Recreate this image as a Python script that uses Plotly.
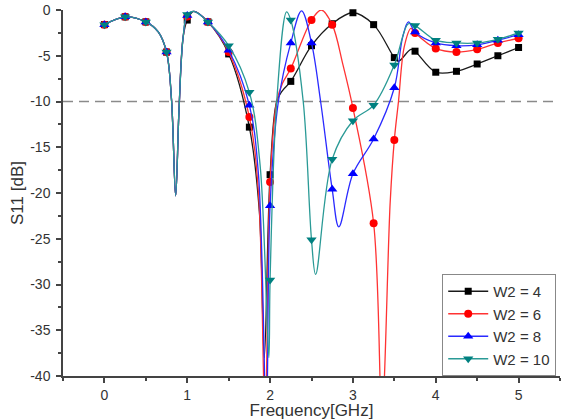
import plotly.graph_objects as go

# ---- data ----
marker_freq = [0.0, 0.25, 0.5, 0.75, 1.0, 1.25, 1.5, 1.75, 2.0, 2.25, 2.5,
               2.75, 3.0, 3.25, 3.5, 3.75, 4.0, 4.25, 4.5, 4.75, 5.0]

w4_markers = [-1.6, -0.75, -1.3, -4.6, -1.1, -1.3, -4.8, -12.8, -18.0, -7.8, -3.9,
              -1.5, -0.3, -1.6, -5.2, -4.5, -6.8, -6.7, -5.9, -5.0, -4.1]
w6_markers = [-1.6, -0.75, -1.3, -4.6, -0.7, -1.3, -4.6, -11.7, -18.8, -6.4, -1.1,
              -1.6, -10.7, -23.3, -14.2, -2.5, -4.2, -4.6, -4.3, -3.6, -3.1]
w8_markers = [-1.6, -0.75, -1.3, -4.6, -0.6, -1.3, -4.4, -10.4, -21.4, -3.6, -3.6,
              -19.6, -17.9, -14.1, -8.5, -2.4, -3.6, -3.9, -3.8, -3.3, -2.7]
w10_markers = [-1.6, -0.75, -1.3, -4.6, -0.5, -1.3, -3.9, -9.0, -29.5, -1.1, -25.1,
               -16.3, -12.1, -10.4, -6.0, -1.7, -3.3, -3.6, -3.6, -3.2, -2.5]

# extra curve points between the markers (resonance dips and peaks)
common_extra_freq = [0.65, 0.81, 0.86, 0.9, 0.95, 1.08]
common_extra_val = [-2.4, -9.8, -20.3, -11.0, -3.0, -0.15]

w4_extra_freq = [1.87, 1.93, 2.08, 2.15, 3.55, 3.7]
w4_extra_val = [-22.0, -38.0, -10.0, -8.8, -5.6, -4.3]
w6_extra_freq = [1.86, 1.94, 2.08, 2.15, 2.62, 2.88, 3.35, 3.45, 3.55, 3.62, 3.7]
w6_extra_val = [-20.0, -45.0, -10.0, -8.0, 0.0, -6.0, -44.0, -21.0, -10.0, -4.0, -2.0]
w8_extra_freq = [1.86, 1.955, 2.1, 2.38, 2.61, 2.83, 3.6, 3.67]
w8_extra_val = [-18.0, -45.0, -10.0, -0.1, -10.0, -23.7, -3.0, -1.3]
w10_extra_freq = [1.88, 1.985, 2.08, 2.2, 2.4, 2.55, 3.67]
w10_extra_val = [-17.0, -38.0, -10.0, -0.2, -10.0, -28.9, -1.5]

y_tick_vals = [0, -5, -10, -15, -20, -25, -30, -35, -40]
y_tick_labels = ["0", "-5", "-10", "-15", "-20", "-25", "-30", "-35", "-40"]
x_tick_vals = [0, 1, 2, 3, 4, 5]
x_tick_labels = ["0", "1", "2", "3", "4", "5"]

names = ["W2 = 4", "W2 = 6", "W2 = 8", "W2 = 10"]
colors = ["#000000", "#ff0000", "#0000ff", "#008080"]
line_colors = ["#1a1a1a", "#ff3333", "#2a2aff", "#2a9a96"]
symbols = ["square", "circle", "triangle-up", "triangle-down"]
sizes = [7, 8, 9, 9]

series = [
    (w4_markers, w4_extra_freq, w4_extra_val),
    (w6_markers, w6_extra_freq, w6_extra_val),
    (w8_markers, w8_extra_freq, w8_extra_val),
    (w10_markers, w10_extra_freq, w10_extra_val),
]

fig = go.Figure()

for i, (mk, ef, ev) in enumerate(series):
    pts = sorted(zip(marker_freq + common_extra_freq + ef,
                     mk + common_extra_val + ev))
    fig.add_trace(go.Scatter(
        x=[p[0] for p in pts], y=[p[1] for p in pts], mode="lines",
        line=dict(color=line_colors[i], width=1.3, shape="spline", smoothing=1.0),
        showlegend=False, hoverinfo="skip"))
    fig.add_trace(go.Scatter(
        x=marker_freq, y=mk, mode="markers",
        marker=dict(symbol=symbols[i], size=sizes[i], color=colors[i]),
        cliponaxis=False, showlegend=False))
    fig.add_trace(go.Scatter(
        x=[None], y=[None], mode="lines+markers", name=names[i],
        line=dict(color=line_colors[i], width=1.3),
        marker=dict(symbol=symbols[i], size=sizes[i], color=colors[i])))

fig.add_shape(type="line", x0=-0.5, x1=5.45, y0=-10, y1=-10, xref="x", yref="y",
              line=dict(color="#8a8a8a", width=1.3, dash="10px,6px"), layer="below")

axis_common = dict(showline=True, linecolor="#444", linewidth=1.5, ticks="outside",
                   ticklen=5, tickwidth=1.5, tickcolor="#444", showgrid=False,
                   zeroline=False, tickfont=dict(family="Liberation Sans", size=14, color="#333"),
                   mirror=False, tickmode="array", automargin=False)

fig.update_layout(
    width=571, height=420,
    margin=dict(l=63, r=11, t=10, b=44),
    plot_bgcolor="white", paper_bgcolor="white",
    font=dict(family="Liberation Sans", color="#333"),
    xaxis=dict(range=[-0.5, 5.5], tickvals=x_tick_vals, ticktext=x_tick_labels,
               minor=dict(dtick=0.5, tick0=0, ticks="outside", ticklen=3, tickcolor="#444"),
               title=dict(text="Frequency[GHz]", font=dict(size=17, color="#333"), standoff=4),
               **axis_common),
    yaxis=dict(range=[-40, 0], tickvals=y_tick_vals, ticktext=y_tick_labels,
               minor=dict(dtick=2.5, tick0=0, ticks="outside", ticklen=3, tickcolor="#444"),
               title=dict(text="S11 [dB]", font=dict(size=17, color="#333"), standoff=2),
               ticklabelstandoff=3,
               **axis_common),
    legend=dict(x=0.763, y=0, xanchor="left", yanchor="bottom",
                bgcolor="white", bordercolor="#888", borderwidth=1,
                font=dict(family="Liberation Sans", size=15, color="#333"),
                itemwidth=40, tracegroupgap=0),
)

fig.write_html("out.html")
